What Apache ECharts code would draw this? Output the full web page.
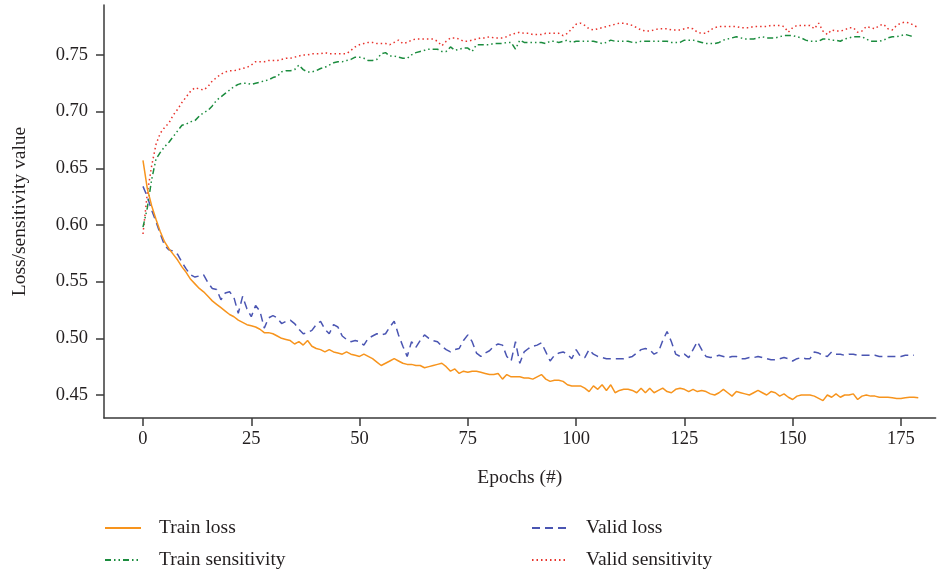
<!DOCTYPE html>
<html>
<head>
<meta charset="utf-8">
<script src="https://cdn.jsdelivr.net/npm/echarts@6/dist/echarts.min.js"></script>
<style>html,body{margin:0;padding:0;background:#fff}#c{width:947px;height:573px}</style>
</head>
<body>
<div id="c"></div>
<script>
var xTicks = [0, 25, 50, 75, 100, 125, 150, 175];
var yTicks = [0.45, 0.50, 0.55, 0.60, 0.65, 0.70, 0.75];

var trainLoss = [0.657,0.632,0.617,0.605,0.594,0.585,0.579,0.574,0.569,0.563,
0.558,0.552,0.548,0.544,0.541,0.537,0.533,0.530,0.527,0.524,
0.521,0.519,0.516,0.514,0.512,0.511,0.510,0.508,0.505,0.505,
0.504,0.502,0.500,0.499,0.498,0.495,0.497,0.494,0.498,0.493,
0.491,0.490,0.488,0.490,0.488,0.487,0.486,0.488,0.486,0.485,
0.484,0.486,0.484,0.482,0.479,0.476,0.478,0.480,0.482,0.480,
0.478,0.477,0.477,0.476,0.476,0.474,0.475,0.476,0.477,0.478,
0.475,0.471,0.473,0.469,0.471,0.470,0.471,0.471,0.470,0.469,
0.468,0.468,0.469,0.464,0.468,0.466,0.466,0.466,0.465,0.465,
0.464,0.466,0.468,0.464,0.462,0.463,0.463,0.462,0.459,0.458,
0.458,0.458,0.456,0.453,0.458,0.455,0.459,0.454,0.459,0.452,
0.454,0.455,0.455,0.454,0.452,0.456,0.452,0.456,0.452,0.454,
0.456,0.453,0.452,0.455,0.456,0.455,0.453,0.455,0.453,0.454,
0.453,0.451,0.450,0.452,0.455,0.452,0.449,0.453,0.452,0.451,
0.450,0.452,0.454,0.452,0.450,0.453,0.452,0.449,0.451,0.448,
0.446,0.449,0.450,0.450,0.450,0.449,0.447,0.445,0.450,0.448,
0.451,0.448,0.450,0.450,0.451,0.446,0.449,0.450,0.449,0.449,
0.448,0.448,0.448,0.4475,0.447,0.447,0.4475,0.448,0.448,0.4475];

var validLoss = [0.634,0.625,0.613,0.603,0.592,0.582,0.578,0.577,0.574,0.567,
0.561,0.556,0.554,0.555,0.556,0.549,0.544,0.543,0.534,0.540,
0.541,0.536,0.522,0.537,0.526,0.519,0.529,0.524,0.509,0.518,
0.520,0.518,0.513,0.515,0.516,0.513,0.508,0.504,0.505,0.507,
0.512,0.515,0.508,0.504,0.512,0.510,0.502,0.499,0.497,0.498,
0.497,0.494,0.500,0.502,0.504,0.503,0.504,0.510,0.515,0.503,
0.493,0.484,0.497,0.492,0.498,0.503,0.500,0.498,0.497,0.493,
0.490,0.488,0.490,0.491,0.498,0.503,0.497,0.487,0.484,0.487,
0.489,0.493,0.495,0.494,0.484,0.480,0.497,0.478,0.488,0.491,
0.493,0.494,0.496,0.488,0.480,0.485,0.487,0.488,0.486,0.482,
0.490,0.484,0.483,0.490,0.486,0.484,0.483,0.482,0.482,0.482,
0.482,0.482,0.483,0.484,0.487,0.490,0.491,0.490,0.486,0.488,
0.498,0.506,0.497,0.486,0.484,0.486,0.483,0.490,0.497,0.490,
0.484,0.483,0.484,0.485,0.484,0.483,0.484,0.484,0.482,0.482,
0.483,0.483,0.484,0.483,0.482,0.481,0.481,0.482,0.483,0.482,
0.480,0.482,0.483,0.482,0.482,0.488,0.487,0.485,0.484,0.488,
0.486,0.486,0.485,0.486,0.486,0.485,0.485,0.485,0.485,0.485,
0.484,0.484,0.484,0.484,0.484,0.484,0.485,0.485,0.485];

var trainSens = [0.598,0.615,0.640,0.658,0.664,0.669,0.673,0.678,0.683,0.688,
0.689,0.691,0.692,0.696,0.699,0.701,0.705,0.710,0.713,0.716,
0.719,0.722,0.724,0.725,0.725,0.724,0.725,0.726,0.727,0.728,
0.730,0.731,0.735,0.736,0.736,0.737,0.741,0.737,0.735,0.735,
0.736,0.738,0.739,0.741,0.743,0.744,0.744,0.745,0.746,0.748,
0.748,0.747,0.745,0.745,0.746,0.751,0.752,0.749,0.749,0.748,
0.747,0.747,0.750,0.752,0.753,0.754,0.755,0.755,0.755,0.753,
0.753,0.757,0.754,0.755,0.756,0.756,0.753,0.759,0.759,0.759,
0.759,0.760,0.760,0.760,0.761,0.761,0.755,0.763,0.761,0.761,
0.761,0.761,0.761,0.760,0.762,0.762,0.761,0.762,0.763,0.761,
0.762,0.762,0.762,0.762,0.762,0.761,0.760,0.761,0.763,0.762,
0.762,0.762,0.762,0.761,0.761,0.762,0.762,0.762,0.762,0.762,
0.762,0.762,0.761,0.761,0.761,0.763,0.763,0.763,0.762,0.761,
0.760,0.760,0.760,0.761,0.763,0.764,0.765,0.766,0.765,0.764,
0.764,0.764,0.765,0.766,0.765,0.765,0.765,0.766,0.767,0.767,
0.767,0.766,0.765,0.763,0.762,0.762,0.762,0.764,0.764,0.763,
0.763,0.762,0.764,0.765,0.766,0.766,0.766,0.764,0.762,0.762,
0.762,0.763,0.765,0.766,0.766,0.767,0.768,0.767,0.766];

var validSens = [0.592,0.628,0.652,0.671,0.681,0.686,0.690,0.697,0.702,0.708,
0.713,0.718,0.721,0.720,0.719,0.722,0.727,0.730,0.733,0.735,
0.736,0.736,0.737,0.738,0.739,0.741,0.744,0.744,0.744,0.745,
0.745,0.745,0.746,0.747,0.747,0.748,0.749,0.750,0.750,0.751,
0.751,0.751,0.752,0.751,0.751,0.751,0.751,0.751,0.754,0.757,
0.759,0.760,0.761,0.761,0.760,0.760,0.760,0.759,0.761,0.763,
0.760,0.761,0.763,0.764,0.764,0.764,0.764,0.764,0.762,0.758,
0.762,0.765,0.765,0.764,0.762,0.762,0.763,0.764,0.765,0.765,
0.766,0.765,0.765,0.765,0.766,0.768,0.769,0.770,0.769,0.769,
0.768,0.768,0.768,0.769,0.769,0.769,0.769,0.767,0.769,0.773,
0.777,0.778,0.776,0.773,0.772,0.773,0.774,0.775,0.776,0.777,
0.778,0.778,0.777,0.776,0.774,0.772,0.771,0.771,0.772,0.773,
0.773,0.773,0.772,0.772,0.772,0.773,0.774,0.773,0.770,0.769,
0.769,0.772,0.774,0.775,0.775,0.775,0.775,0.775,0.774,0.774,
0.774,0.775,0.775,0.775,0.775,0.776,0.776,0.776,0.775,0.770,
0.774,0.776,0.776,0.776,0.776,0.773,0.778,0.771,0.768,0.772,
0.771,0.771,0.772,0.774,0.774,0.770,0.771,0.775,0.774,0.773,
0.776,0.777,0.773,0.772,0.776,0.778,0.779,0.778,0.776,0.774];

function pairs(arr){ return arr.map(function(v,i){ return [i, v]; }); }

var font = 'Liberation Serif';
var textColor = '#231f20';
var axisColor = '#3a3a3a';

function legendFor(name, left, top){
  return { left: left, top: top, itemWidth: 36, itemHeight: 14, data: [name],
    itemStyle: { opacity: 0 },
    textStyle: { fontFamily: font, fontSize: 19.5, color: textColor, lineHeight: 20, padding: [0,0,0,13] } };
}

var chart = echarts.init(document.getElementById('c'), null, {renderer:'canvas'});
chart.setOption({
  animation: false,
  backgroundColor: '#ffffff',
  grid: { left: 104, right: 11.4, top: 5, bottom: 155, containLabel: false },
  xAxis: {
    type: 'value', min: -9, max: 183,
    name: 'Epochs (#)', nameLocation: 'middle', nameGap: 50,
    nameTextStyle: { fontFamily: font, fontSize: 19.5, color: textColor },
    axisLine: { show: true, onZero: false, lineStyle: { color: axisColor, width: 1.5 } },
    axisTick: { show: true, length: 8, customValues: xTicks, lineStyle: { color: axisColor, width: 1.5 } },
    axisLabel: { customValues: xTicks, margin: 12, fontFamily: font, fontSize: 18.5, color: textColor },
    splitLine: { show: false }
  },
  yAxis: {
    type: 'value', min: 0.4297, max: 0.794,
    name: 'Loss/sensitivity value', nameLocation: 'middle', nameGap: 74, nameRotate: 90,
    nameTextStyle: { fontFamily: font, fontSize: 19.5, color: textColor },
    axisLine: { show: true, onZero: false, lineStyle: { color: axisColor, width: 1.5 } },
    axisTick: { show: true, length: 8, customValues: yTicks, lineStyle: { color: axisColor, width: 1.5 } },
    axisLabel: { customValues: yTicks, margin: 16, fontFamily: font, fontSize: 18.5, color: textColor,
      formatter: function(v){ return v.toFixed(2); } },
    splitLine: { show: false }
  },
  legend: [
    legendFor('Train loss', 99, 513),
    legendFor('Train sensitivity', 99, 545),
    legendFor('Valid loss', 526, 513),
    legendFor('Valid sensitivity', 526, 545)
  ],
  series: [
    { name: 'Train loss', type: 'line', data: pairs(trainLoss), symbol: 'none', z: 4,
      lineStyle: { color: '#F7941D', width: 1.5, type: 'solid' }, itemStyle: { color: '#F7941D' } },
    { name: 'Valid loss', type: 'line', data: pairs(validLoss), symbol: 'none', z: 3,
      lineStyle: { color: '#4A55B2', width: 1.5, type: [8, 5] }, itemStyle: { color: '#4A55B2' } },
    { name: 'Train sensitivity', type: 'line', data: pairs(trainSens), symbol: 'none', z: 3,
      lineStyle: { color: '#1B8C3E', width: 1.5, type: [6, 3, 1.5, 3, 1.5, 3] }, itemStyle: { color: '#1B8C3E' } },
    { name: 'Valid sensitivity', type: 'line', data: pairs(validSens), symbol: 'none', z: 2,
      lineStyle: { color: '#E8322B', width: 1.5, type: [1.5, 3] }, itemStyle: { color: '#E8322B' } }
  ]
});
</script>
</body>
</html>
